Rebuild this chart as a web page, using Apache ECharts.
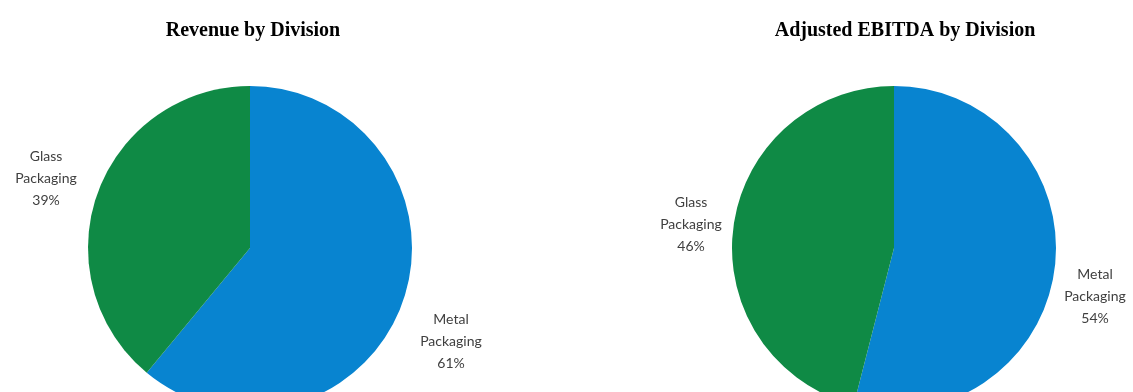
<!DOCTYPE html>
<html>
<head>
<meta charset="utf-8">
<script src="https://cdn.jsdelivr.net/npm/echarts@6/dist/echarts.min.js"></script>
<style>
  html, body { margin: 0; padding: 0; background: #ffffff; }
  #chart { width: 1133px; height: 392px; }
</style>
</head>
<body>
<div id="chart"></div>
<script>
// ---- data ----
const chartTitles = ['Revenue by Division', 'Adjusted EBITDA by Division'];
const categories = ['Metal Packaging', 'Glass Packaging'];
const categoryLabels = ['Metal\nPackaging', 'Glass\nPackaging'];
const revenueShare = [61, 39];
const ebitdaShare = [54, 46];

// ---- layout / style ----
const colors = ['#0884d0', '#0f8a45'];
const pieCenters = [[250, 248], [894, 248]];
const pieRadius = 162;
// label anchor points (centre of text block) for each pie: [metal, glass]
const labelAnchors = [
  [[451, 341], [46, 178]],
  [[1095, 296], [691, 224]]
];

const chart = echarts.init(document.getElementById('chart'), null, { renderer: 'canvas' });

function makeSeries(values, idx) {
  return {
    type: 'pie',
    center: pieCenters[idx],
    radius: pieRadius,
    startAngle: 90,
    clockwise: true,
    silent: true,
    animation: false,
    data: categories.map((c, i) => ({
      name: c,
      value: values[i],
      itemStyle: { color: colors[i] }
    })),
    label: {
      show: true,
      position: 'outside',
      formatter: (p) => categoryLabels[p.dataIndex] + '\n' + values[p.dataIndex] + '%',
      fontFamily: 'Lato, "Open Sans", sans-serif',
      fontSize: 14,
      lineHeight: 22,
      color: '#404040',
      align: 'center',
      width: 100,
      overflow: 'none'
    },
    labelLine: { show: false },
    labelLayout: (params) => {
      const a = labelAnchors[idx][params.dataIndex];
      return { x: a[0], y: a[1], align: 'center', verticalAlign: 'middle' };
    }
  };
}

const option = {
  backgroundColor: '#ffffff',
  title: [
    {
      text: chartTitles[0],
      left: 248, top: 16,
      textAlign: 'center',
      textStyle: { fontFamily: '"Liberation Serif", "Times New Roman", serif', fontWeight: 'bold', fontSize: 20, color: '#000' }
    },
    {
      text: chartTitles[1],
      left: 900, top: 16,
      textAlign: 'center',
      textStyle: { fontFamily: '"Liberation Serif", "Times New Roman", serif', fontWeight: 'bold', fontSize: 20, color: '#000' }
    }
  ],
  series: [makeSeries(revenueShare, 0), makeSeries(ebitdaShare, 1)]
};

chart.setOption(option);
</script>
</body>
</html>
